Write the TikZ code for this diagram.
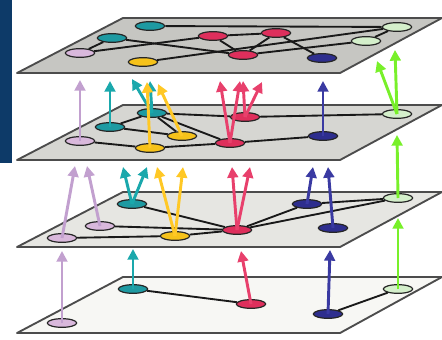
\documentclass[tikz,border=0pt]{standalone}
\usetikzlibrary{shapes.geometric,arrows.meta}
\definecolor{navybar}{HTML}{0D3A68}
\definecolor{pone}{HTML}{C6C6C2}
\definecolor{ptwo}{HTML}{D6D6D2}
\definecolor{pthree}{HTML}{E6E6E2}
\definecolor{pfour}{HTML}{F7F7F4}
\definecolor{lavn}{HTML}{D9B8DC}
\definecolor{lava}{HTML}{C2A0CF}
\definecolor{tealn}{HTML}{1E9AA2}
\definecolor{teala}{HTML}{1AA8AC}
\definecolor{yeln}{HTML}{F6C21A}
\definecolor{yela}{HTML}{FFC825}
\definecolor{redn}{HTML}{DE2F5C}
\definecolor{reda}{HTML}{E8406C}
\definecolor{bluen}{HTML}{2E2E8E}
\definecolor{bluea}{HTML}{3A3AA2}
\definecolor{greenn}{HTML}{D4EFCB}
\definecolor{greena}{HTML}{78F02A}
\begin{document}
\begin{tikzpicture}[x=0.75pt,y=-0.75pt,
  plane/.style={draw=black!70,line width=1.4pt,line join=round},
  nd/.style={ellipse,draw=black!85,line width=0.9pt,minimum width=22pt,minimum height=6.5pt,inner sep=0pt},
  lk/.style={draw=black!90,line width=1.4pt},
  arr/.style={line width=2.2pt,-{Triangle[length=8pt,width=8pt]}},
]
\useasboundingbox (0,0) rectangle (442,339);
\fill[navybar] (0,0) rectangle (12,163);

% ---------- layer 4 ----------
\filldraw[plane,fill=pfour] (17,333) -- (340,333) -- (442,277) -- (123,277) -- cycle;
\node[nd,fill=lavn] (D1) at (62,323) {};
\node[nd,fill=tealn] (D2) at (133,289) {};
\node[nd,fill=redn] (D3) at (251,304) {};
\node[nd,fill=bluen] (D4) at (328,314) {};
\node[nd,fill=greenn] (D5) at (398,289) {};
\draw[lk] (D2) -- (D3);
\draw[lk] (D4) -- (D5);
\coordinate (d1t) at (62,251);
\coordinate (d2t) at (133,249);
\coordinate (d3t) at (241,251);
\coordinate (d4t) at (330,250);
\coordinate (d5t) at (398,218);
\draw[arr,lava] (D1.center) -- (d1t);
\draw[arr,teala] (D2.center) -- (d2t);
\draw[arr,reda] (D3.center) -- (d3t);
\draw[arr,bluea] (D4.center) -- (d4t);
\draw[arr,greena] (D5.center) -- (d5t);

% ---------- layer 3 ----------
\filldraw[plane,fill=pthree] (17,247) -- (340,247) -- (442,192) -- (123,192) -- cycle;
\node[nd,fill=lavn] (C1) at (62,238) {};
\node[nd,fill=lavn] (C2) at (100,226) {};
\node[nd,fill=tealn] (C3) at (132,204) {};
\node[nd,fill=yeln] (C4) at (175,236) {};
\node[nd,fill=redn] (C5) at (237,230) {};
\node[nd,fill=bluen] (C6) at (307,204) {};
\node[nd,fill=bluen] (C7) at (333,228) {};
\node[nd,fill=greenn] (C8) at (398,198) {};
\draw[lk] (C1) -- (C4);
\draw[lk] (C2) -- (C5);
\draw[lk] (C3) -- (C5);
\draw[lk] (C4) -- (C5);
\draw[lk] (C5) -- (C6);
\draw[lk] (C5) -- (C8);
\draw[lk] (C6) -- (C8);
\coordinate (c1t) at (75,166);
\coordinate (c2t) at (87,166);
\coordinate (c3a) at (123,167);
\coordinate (c3b) at (147,167);
\coordinate (c4a) at (157,167);
\coordinate (c4b) at (183,167);
\coordinate (c5a) at (232,167);
\coordinate (c5b) at (250,167);
\coordinate (c6t) at (313,167);
\coordinate (c7t) at (328,167);
\coordinate (c8t) at (397,135);
\draw[arr,lava] (C1.center) -- (c1t);
\draw[arr,lava] (C2.center) -- (c2t);
\draw[arr,teala] (C3.center) -- (c3a);
\draw[arr,teala] (C3.center) -- (c3b);
\draw[arr,yela] (C4.center) -- (c4a);
\draw[arr,yela] (C4.center) -- (c4b);
\draw[arr,reda] (C5.center) -- (c5a);
\draw[arr,reda] (C5.center) -- (c5b);
\draw[arr,bluea] (C6.center) -- (c6t);
\draw[arr,bluea] (C7.center) -- (c7t);
\draw[arr,greena] (C8.center) -- (c8t);

% ---------- layer 2 ----------
\filldraw[plane,fill=ptwo] (17,160) -- (340,160) -- (442,105) -- (123,105) -- cycle;
\node[nd,fill=lavn] (B1) at (80,141) {};
\node[nd,fill=tealn] (B2) at (110,127) {};
\node[nd,fill=tealn] (B3) at (152,113) {};
\node[nd,fill=yeln] (B4) at (150,148) {};
\node[nd,fill=yeln] (B5) at (182,136) {};
\node[nd,fill=redn] (B6) at (245,117) {};
\node[nd,fill=redn] (B7) at (230,143) {};
\node[nd,fill=bluen] (B8) at (323,136) {};
\node[nd,fill=greenn] (B9) at (397,114) {};
\draw[lk] (B1) -- (B4);
\draw[lk] (B4) -- (B7);
\draw[lk] (B2) -- (B3);
\draw[lk] (B2) -- (B5);
\draw[lk] (B3) -- (B5);
\draw[lk] (B3) -- (B7);
\draw[lk] (B3) -- (B6);
\draw[lk] (B6) -- (B9);
\draw[lk] (B7) -- (B8);
\coordinate (b1t) at (80,80);
\coordinate (b2t) at (110,81);
\coordinate (b3a) at (132,79);
\coordinate (b3b) at (150,81);
\coordinate (b4t) at (147,82);
\coordinate (b5t) at (158,84);
\coordinate (b7a) at (220,81);
\coordinate (b7b) at (240,81);
\coordinate (b6a) at (243,81);
\coordinate (b6b) at (262,82);
\coordinate (b8t) at (323,81);
\coordinate (b9a) at (395,50);
\coordinate (b9b) at (377,61);
\draw[arr,lava] (B1.center) -- (b1t);
\draw[arr,teala] (B2.center) -- (b2t);
\draw[arr,teala] (B3.center) -- (b3a);
\draw[arr,teala] (B3.center) -- (b3b);
\draw[arr,yela] (B4.center) -- (b4t);
\draw[arr,yela] (B5.center) -- (b5t);
\draw[arr,reda] (B7.center) -- (b7a);
\draw[arr,reda] (B7.center) -- (b7b);
\draw[arr,reda] (B6.center) -- (b6a);
\draw[arr,reda] (B6.center) -- (b6b);
\draw[arr,bluea] (B8.center) -- (b8t);
\draw[arr,greena] (B9.center) -- (b9a);
\draw[arr,greena] (B9.center) -- (b9b);

% ---------- layer 1 ----------
\filldraw[plane,fill=pone] (17,73) -- (340,73) -- (442,18) -- (123,18) -- cycle;
\node[nd,fill=tealn] (A1) at (150,26) {};
\node[nd,fill=tealn] (A2) at (112,38) {};
\node[nd,fill=lavn] (A3) at (80,53) {};
\node[nd,fill=yeln] (A4) at (143,62) {};
\node[nd,fill=redn] (A5) at (213,36) {};
\node[nd,fill=redn] (A6) at (276,33) {};
\node[nd,fill=redn] (A7) at (243,55) {};
\node[nd,fill=bluen] (A8) at (322,58) {};
\node[nd,fill=greenn] (A9) at (397,27) {};
\node[nd,fill=greenn] (A10) at (366,41) {};
\draw[lk] (A1) -- (A9);
\draw[lk] (A9) -- (A10);
\draw[lk] (A2) -- (A3);
\draw[lk] (A3) -- (A5);
\draw[lk] (A2) -- (A7);
\draw[lk] (A4) -- (A9);
\draw[lk] (A5) -- (A6);
\draw[lk] (A5) -- (A7);
\draw[lk] (A7) -- (A6);
\draw[lk] (A6) -- (A8);
\draw[lk] (A7) -- (A10);
\end{tikzpicture}
\end{document}
